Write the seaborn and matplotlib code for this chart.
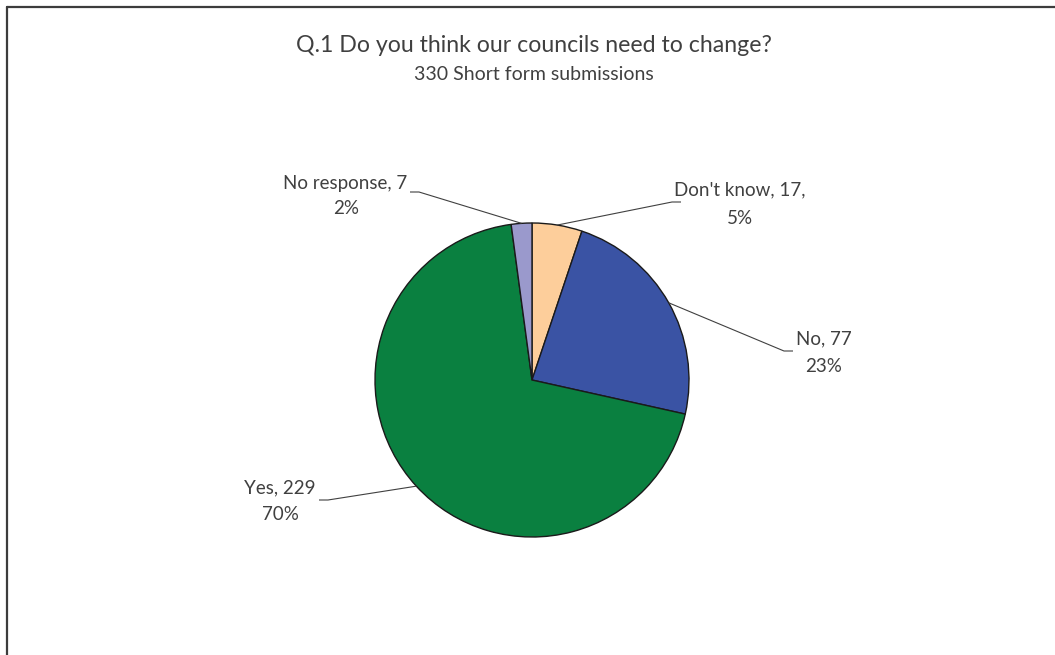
import numpy as np
import matplotlib
matplotlib.use("Agg")
import matplotlib.pyplot as plt
from matplotlib.lines import Line2D
import seaborn as sns

# Survey responses, in the order the slices are drawn (clockwise from 12 o'clock)
categories = ["Don't know", "No", "Yes", "No response"]
counts = [17, 77, 229, 7]
percent_labels = [5, 23, 70, 2]
slice_colors = ["#FDCE9B", "#3A53A4", "#0A8040", "#9A99CC"]

title = "Q.1 Do you think our councils need to change?"
subtitle = "330 Short form submissions"

sns.set_theme(style="white")
plt.rcParams["font.family"] = ["Lato", "DejaVu Sans"]

W, H = 1055, 655
fig = plt.figure(figsize=(W / 100, H / 100), dpi=100)
ax = fig.add_axes([0, 0, 1, 1])

text_color = "#404040"
cx, cy, r = 532, H - 380, 157

wedges, _ = ax.pie(
    counts, colors=slice_colors, startangle=90, counterclock=False,
    center=(cx, cy), radius=r, frame=True,
    wedgeprops=dict(edgecolor="#1a1a1a", linewidth=1.0),
)
ax.set_xlim(0, W)
ax.set_ylim(0, H)
ax.set_aspect("equal")
ax.axis("off")

# leader stub end (pixels from top-left), stub direction, and the two label-line centres
layout = [
    dict(stub=(672, 202), side=1, line1=(740, 190), line2=(740, 218)),
    dict(stub=(784, 351), side=1, line1=(824, 339), line2=(824, 367)),
    dict(stub=(328, 500), side=-1, line1=(280, 488), line2=(280, 515)),
    dict(stub=(419, 192), side=-1, line1=(345, 183), line2=(346, 208)),
]

for w, cat, n, pct, lay in zip(wedges, categories, counts, percent_labels, layout):
    mid = np.deg2rad((w.theta1 + w.theta2) / 2)
    ex, ey = cx + r * np.cos(mid), cy + r * np.sin(mid)
    sx, sy = lay["stub"]
    sy = H - sy
    ax.plot([ex, sx, sx + 9 * lay["side"]], [ey, sy, sy], color=text_color, lw=0.8,
            solid_capstyle="butt", zorder=1)
    first = f"{cat}, {n}," if cat == "Don't know" else f"{cat}, {n}"
    ax.text(lay["line1"][0], H - lay["line1"][1], first, ha="center", va="center",
            fontsize=13.5, color=text_color)
    ax.text(lay["line2"][0], H - lay["line2"][1], f"{pct}%", ha="center", va="center",
            fontsize=13.5, color=text_color)

fig.text(534 / W, 1 - 45 / H, title, ha="center", va="center", fontsize=16.7, color=text_color)
fig.text(534 / W, 1 - 75 / H, subtitle, ha="center", va="center", fontsize=14, color=text_color)

# chart frame (left and top edges visible)
fig.add_artist(Line2D([6.5 / W, 6.5 / W], [0, 1 - 6.5 / H], color="#3c3c3c", lw=1.6,
                      transform=fig.transFigure))
fig.add_artist(Line2D([6.5 / W, 1], [1 - 6.5 / H, 1 - 6.5 / H], color="#3c3c3c", lw=1.6,
                      transform=fig.transFigure))

fig.savefig("out.png", dpi=100, facecolor="white")
